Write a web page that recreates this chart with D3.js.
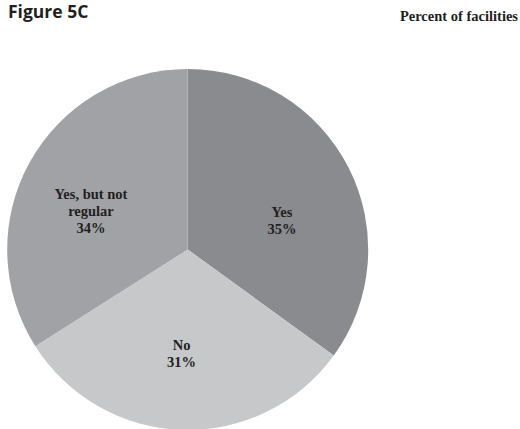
<!DOCTYPE html>
<html><head><meta charset="utf-8">
<script src="https://cdn.jsdelivr.net/npm/d3@7"></script>
<style>body{margin:0;background:#fff}svg{display:block}</style>
</head><body>
<svg id="c" width="520" height="429"></svg>
<script>
const categories = ["Yes", "No", "Yes, but not regular"];
const values = [35, 31, 34];
const labelLines = [["Yes","35%"],["No","31%"],["Yes, but not","regular","34%"]];
const colors = ["#8a8b8f", "#c7c8ca", "#a1a2a6"];

// layout-only nudges of label positions relative to slice centroid (px)
const labelNudge = [[6, 21], [-3, 10.5], [-10, 14]];

const svg = d3.select("#c");
svg.append("text").attr("x", 8).attr("y", 18)
  .attr("font-family", "Open Sans, sans-serif").attr("font-weight", "bold")
  .attr("font-size", 17.5).attr("fill", "#231f20").text("Figure 5C");
svg.append("text").attr("x", 518).attr("y", 21).attr("text-anchor", "end")
  .attr("font-family", "'Liberation Serif', serif").attr("font-weight", "bold")
  .attr("font-size", 14.5).attr("fill", "#231f20").text("Percent of facilities");

const cx = 187.7, cy = 249.5, r = 180.5;
const pie = d3.pie().sort(null).value(d => d)(values);
const arc = d3.arc().innerRadius(0).outerRadius(r);
const g = svg.append("g").attr("transform", `translate(${cx},${cy})`);
g.selectAll("path").data(pie).join("path")
  .attr("d", arc).attr("fill", (d, i) => colors[i]);

const labelArc = d3.arc().innerRadius(99).outerRadius(99);
const lh = 17;
g.selectAll("text.lbl").data(pie).join("text")
  .attr("class", "lbl")
  .attr("text-anchor", "middle")
  .attr("font-family", "'Liberation Serif', serif")
  .attr("font-weight", "bold").attr("font-size", 14.5).attr("fill", "#231f20")
  .each(function(d, i) {
    const c = labelArc.centroid(d);
    const x = c[0] + labelNudge[i][0], y = c[1] + labelNudge[i][1];
    const lines = labelLines[i];
    const t = d3.select(this);
    const y0 = y - (lines.length - 1) * lh / 2;
    lines.forEach((s, k) => t.append("tspan").attr("x", x).attr("y", y0 + k * lh).text(s));
  });
</script>
</body></html>
